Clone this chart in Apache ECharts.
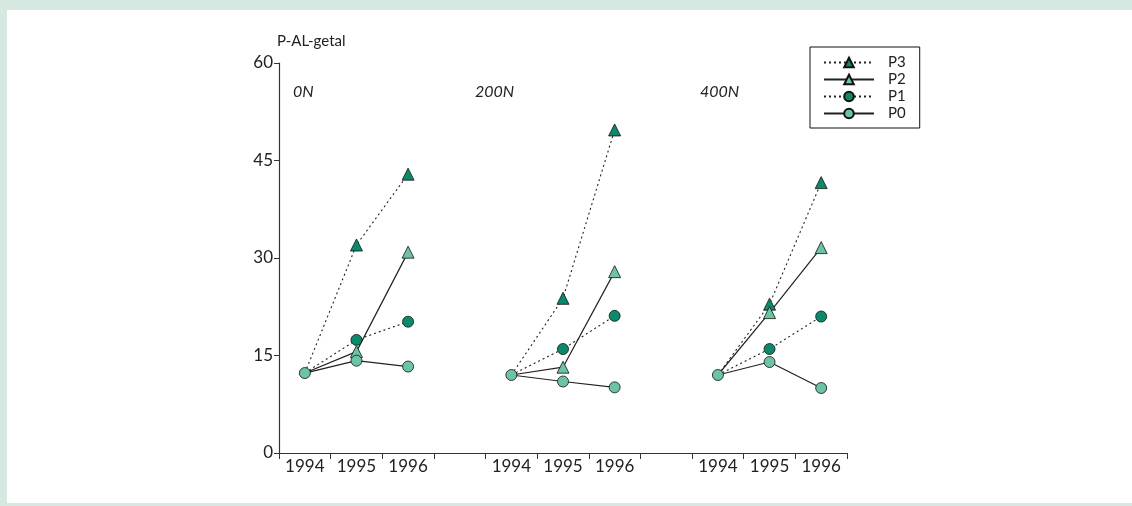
<!DOCTYPE html>
<html>
<head>
<meta charset="utf-8">
<script src="https://cdn.jsdelivr.net/npm/echarts@6/dist/echarts.min.js"></script>
<style>
  html, body { margin: 0; padding: 0; background: #d5e9e1; }
  #frame { position: absolute; left: 7px; top: 10px; width: 1125px; height: 493px; background: #ffffff; }
  #chart { position: absolute; left: 0; top: 0; width: 1132px; height: 506px; }
</style>
</head>
<body>
<div id="frame"></div>
<div id="chart"></div>
<script>
const categories = ['1994', '1995', '1996', '', '1994', '1995', '1996', '', '1994', '1995', '1996'];
const groupLabels = ['0N', '200N', '400N'];
const yTicks = [0, 15, 30, 45, 60];
const yName = 'P-AL-getal';

const P3 = [12.3, 32.0, 42.9, null, 12.0, 23.8, 49.7, null, 12.0, 22.9, 41.6];
const P2 = [12.3, 15.6, 30.9, null, 12.0, 13.2, 27.9, null, 12.0, 21.6, 31.6];
const P1 = [12.3, 17.4, 20.2, null, 12.0, 16.0, 21.1, null, 12.0, 16.0, 21.0];
const P0 = [12.3, 14.2, 13.3, null, 12.0, 11.0, 10.1, null, 12.0, 14.0, 10.0];

const DARK = '#0a8a6b';
const LIGHT = '#6cc3a5';
const FONT = 'Lato';

function build(name, values, symbol, color, dashed, hideFirst) {
  return {
    name: name,
    type: 'line',
    symbol: symbol,
    symbolSize: symbol === 'triangle' ? 12 : 11,
    connectNulls: false,
    animation: false,
    itemStyle: { color: color, borderColor: '#111', borderWidth: 0.8 },
    lineStyle: { color: '#222', width: dashed ? 1.1 : 1.2, type: dashed ? [2, 3] : 'solid' },
    data: values.map(function (v, i) {
      if (hideFirst && categories[i] === '1994') return { value: v, symbol: 'none' };
      return v;
    })
  };
}

const chart = echarts.init(document.getElementById('chart'), null, { renderer: 'canvas' });

const labelX = [293, 475, 700];
chart.setOption({
  backgroundColor: 'transparent',
  animation: false,
  textStyle: { fontFamily: FONT },
  grid: { left: 279, right: 285, top: 63, bottom: 53 },
  legend: {
    left: 810, top: 47,
    orient: 'vertical',
    data: ['P3', 'P2', 'P1', 'P0'],
    itemWidth: 50, itemHeight: 12, itemGap: 2,
    padding: [8, 14, 7, 13],
    borderColor: '#111', borderWidth: 1,
    textStyle: { fontFamily: FONT, fontSize: 15, color: '#222', padding: [0, 0, 0, 9], lineHeight: 14 }
  },
  xAxis: {
    type: 'category',
    data: categories,
    boundaryGap: true,
    axisLine: { lineStyle: { color: '#333', width: 1.2 } },
    axisTick: { show: true, interval: 0, length: 6, lineStyle: { color: '#333' } },
    axisLabel: { interval: 0, fontSize: 17, color: '#222', fontFamily: FONT, margin: 5 },
    splitLine: { show: false }
  },
  yAxis: {
    type: 'value',
    min: yTicks[0], max: yTicks[yTicks.length - 1], interval: 15,
    name: yName,
    nameLocation: 'end',
    nameGap: 14,
    nameTextStyle: { align: 'left', fontSize: 15, color: '#222', fontFamily: FONT, padding: [0, 0, 0, -2] },
    axisLine: { show: true, lineStyle: { color: '#333', width: 1.2 } },
    axisTick: { show: true, length: 5, lineStyle: { color: '#333' } },
    axisLabel: { fontSize: 17, color: '#222', fontFamily: FONT, margin: 6 },
    splitLine: { show: false }
  },
  graphic: groupLabels.map(function (t, i) {
    return {
      type: 'text', left: labelX[i], top: 84,
      style: { text: t, font: 'italic 16px ' + FONT, fill: '#222' }
    };
  }),
  series: [
    build('P3', P3, 'triangle', DARK, true, true),
    build('P2', P2, 'triangle', LIGHT, false, true),
    build('P1', P1, 'circle', DARK, true, true),
    build('P0', P0, 'circle', LIGHT, false, false)
  ]
});
</script>
</body>
</html>
